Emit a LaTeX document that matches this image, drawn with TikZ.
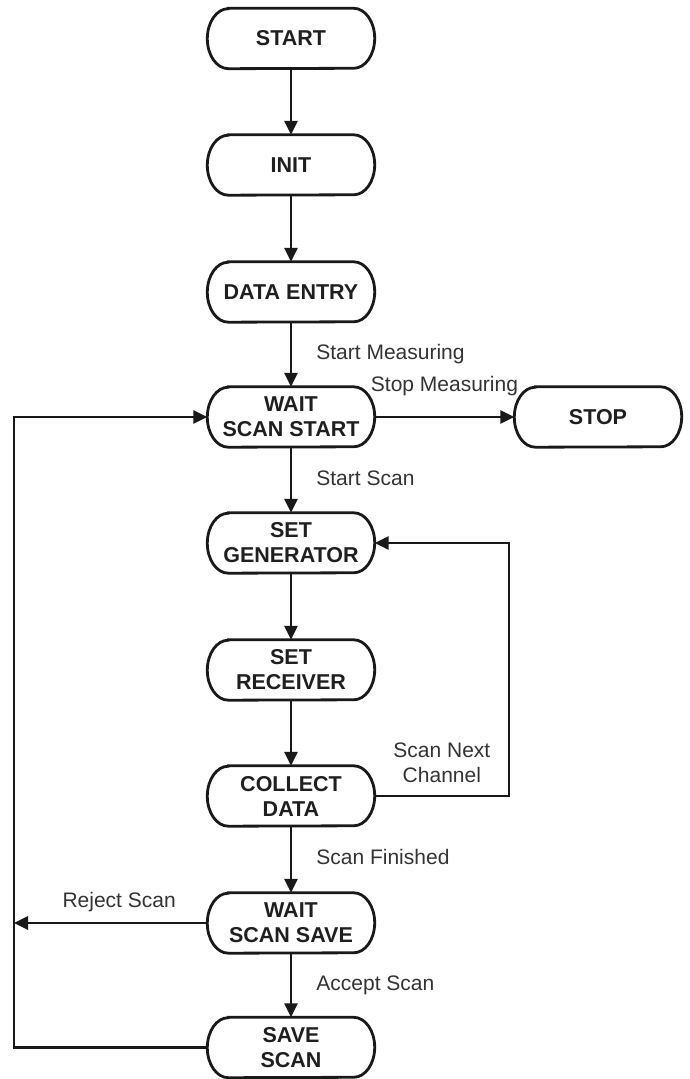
\documentclass[tikz,border=0pt]{standalone}
\usepackage{fontspec}
\setmainfont{Liberation Sans}
\usetikzlibrary{arrows.meta}
\begin{document}
\begin{tikzpicture}[x=1pt,y=1pt,
  state/.style={rectangle, minimum width=167pt, minimum height=60pt, inner sep=0pt,
    align=center, font=\fontsize{21.5}{25}\selectfont\bfseries, text=black!88},
  outline/.style={line width=2.8pt, draw=black!90},
  flow/.style={line width=2.8pt, draw=black!90, -{Triangle[length=14pt,width=13pt]}},
  lbl/.style={inner sep=0pt, font=\fontsize{21}{25}\selectfont, text=black!80,
    text height=15pt, text depth=4.5pt},
  lblmulti/.style={inner sep=0pt, align=center, font=\fontsize{21}{25}\selectfont, text=black!80}
]
\useasboundingbox (0,0) rectangle (690,1079);

% states of the scan sequence
\node[state] (start)   at (291,1040.5) {START};
\node[state] (init)    at (291,914)    {INIT};
\node[state] (entry)   at (291,787)    {DATA ENTRY};
\node[state] (waitst)  at (291,662)    {WAIT\\SCAN START};
\node[state] (stop)    at (598,662)    {STOP};
\node[state] (setgen)  at (291,536)    {SET\\GENERATOR};
\node[state] (setrec)  at (291,409)    {SET\\RECEIVER};
\node[state] (collect) at (291,283)    {COLLECT\\DATA};
\node[state] (waitsv)  at (291,156)    {WAIT\\SCAN SAVE};
\node[state] (save)    at (291,31.5)   {SAVE\\SCAN};

% capsule outlines with elliptical ends
\foreach \n in {start,init,entry,waitst,stop,setgen,setrec,collect,waitsv,save}
  \draw[outline] ([xshift=21pt]\n.north west) -- ([xshift=-21pt]\n.north east)
    arc[start angle=90,end angle=-90,x radius=21pt,y radius=30pt]
    -- ([xshift=21pt]\n.south west)
    arc[start angle=270,end angle=90,x radius=21pt,y radius=30pt] -- cycle;

% return rails
\coordinate (rail) at (14,0);
\coordinate (loop) at (509,0);

% main sequence
\draw[flow] (start.south) -- (init.north);
\draw[flow] (init.south) -- (entry.north);
\draw[flow] (entry.south) -- node[lbl, anchor=west, xshift=24pt] {Start Measuring} (waitst.north);
\draw[flow] (waitst.east) -- node[lbl, anchor=base, yshift=25pt] {Stop Measuring} (stop.west);
\draw[flow] (waitst.south) -- node[lbl, anchor=west, xshift=24pt] {Start Scan} (setgen.north);
\draw[flow] (setgen.south) -- (setrec.north);
\draw[flow] (setrec.south) -- (collect.north);
\draw[flow] (collect.south) -- node[lbl, anchor=west, xshift=24pt] {Scan Finished} (waitsv.north);
\draw[flow] (waitsv.south) -- node[lbl, anchor=west, xshift=24pt] {Accept Scan} (save.north);

% next channel loop
\draw[flow] (collect.east) -- node[lblmulti, anchor=south, yshift=11.5pt] {Scan Next\\Channel}
  (collect.east -| loop) |- (setgen.east);

% rejected or saved scans go back to waiting
\draw[flow] (save.west) -- (save.west -| rail) |- (waitst.west);
\draw[flow] (waitsv.west) -- node[lbl, anchor=base, yshift=15.5pt, xshift=8.5pt] {Reject Scan} (waitsv.west -| rail);
\end{tikzpicture}
\end{document}
